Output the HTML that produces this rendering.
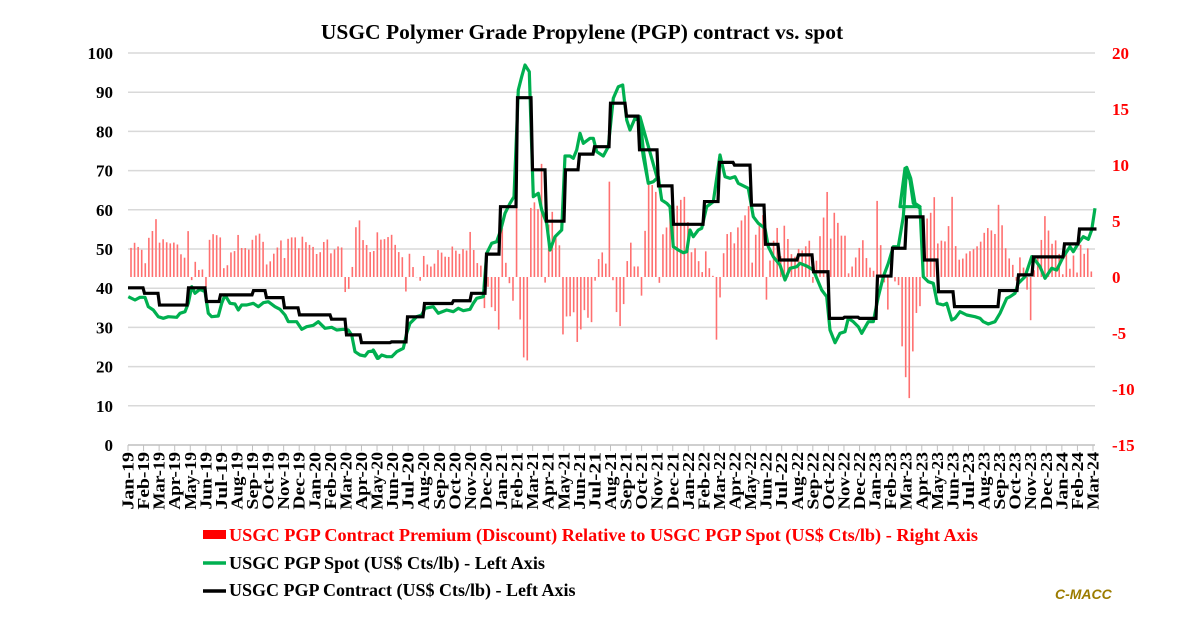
<!DOCTYPE html>
<html><head><meta charset="utf-8"><style>
body{margin:0;background:#fff;}
svg{display:block;font-family:"Liberation Serif",serif;}
</style></head><body>
<svg id="c" width="1200" height="627" xmlns="http://www.w3.org/2000/svg"></svg>
<script>
const S=document.getElementById('c');let h='';
const yl=v=>445-v*3.92, yr=v=>277-v*11.2;
h+='<rect width="1200" height="627" fill="#fff"/>';
h+='<text x="582" y="39" text-anchor="middle" font-size="21.5" font-weight="bold">USGC Polymer Grade Propylene (PGP) contract vs. spot</text>';
for(let v=0;v<=100;v+=10){const y=yl(v);if(v>0)h+=`<line x1="128" x2="1095" y1="${y}" y2="${y}" stroke="#d9d9d9" stroke-width="1.5"/>`;
h+=`<text x="113" y="${y+6}" text-anchor="end" font-size="17" font-weight="bold">${v}</text>`;}
for(let v=-15;v<=20;v+=5){h+=`<text x="1112" y="${yr(v)+6}" font-size="17" font-weight="bold" fill="#f00">${v}</text>`;}
h+='<line x1="128" x2="1095" y1="445" y2="445" stroke="#bfbfbf" stroke-width="1.5"/>';
const mon=['Jan','Feb','Mar','Apr','May','Jun','Jul','Aug','Sep','Oct','Nov','Dec'];
for(let i=0;i<63;i++){const x=128+i*(965/62);const lab=mon[i%12]+'-'+(19+Math.floor(i/12));
h+=`<line x1="${x}" x2="${x}" y1="445" y2="451" stroke="#bfbfbf"/>`;
h+=`<text transform="translate(${x+5.5},452) rotate(-90)" text-anchor="end" font-size="16.5" font-weight="bold" textLength="${lab.length*9.6}" lengthAdjust="spacingAndGlyphs">${lab}</text>`;}
const C=[[128,40.1],[143,38.7],[158,35.7],[187,40.1],[205,36.6],[219,38.3],[252,39.4],[265,37.6],[283,35],[298,33.2],[330,32.1],[345,28.1],[360,26.1],[390,26.3],[406,32.7],[423,36.1],[452,36.8],[470,38.7],[485,48.7],[499,60.8],[516,88.6],[531,70.2],[545,57.1],[564,70.2],[578,74.2],[593,76.1],[609,87.2],[625,83.9],[638,75.3],[657,66.1],[672,56.3],[703,62.1],[718,72.1],[733,71.4],[750,61.2],[764,51.2],[778,47.2],[797,48.5],[812,44.2],[828,32.3],[843,32.6],[858,32.3],[876,43.1],[891,50.2],[905,58.2],[923,47.2],[937,39.1],[953,35.3],[998,39.4],[1017,43.4],[1032,48],[1063,51.3],[1078,55.1],[1095,55.1]];
const cv=x=>{let v=C[0][1];for(const p of C){if(p[0]<=x)v=p[1];}return v;};
let cp='';for(let i=0;i<C.length;i++){const [x,v]=C[i];if(i==0)cp+=`M${x},${yl(v)}`;else{cp+=`L${x},${yl(C[i-1][1])}L${x+1.5},${yl(v)}`;}}
const Z=[[80,40,[[145,770],[165,780],[180,772],[195,772],[205,800],[220,810],[235,830],[250,835],[265,830],[290,832],[300,820],[315,815],[325,790],[335,740],[345,760],[360,748],[375,755],[385,820],[395,830],[415,828],[425,790],[435,765],[450,790],[465,792],[475,810],[485,795],[500,795],[520,790],[535,800],[550,788],[565,785],[585,800],[600,808],[615,825],[625,845],[650,845],[665,868],[680,860],[700,856],[715,845],[735,865],[755,862],[770,870],[790,868],[805,870],[815,885],[825,935],[840,945],[855,948],[865,935],[880,933],[892,955]]],
[370,50,[[10,900],[25,925],[35,915],[50,920],[65,920],[80,905],[100,895],[110,850],[120,820],[140,800],[155,795],[165,775],[190,770],[205,790],[230,780],[250,785],[265,775],[280,782],[300,778],[310,760],[320,745],[340,740],[350,610],[365,580],[380,575],[392,540],[405,490],[420,460],[432,440],[445,120],[455,80],[465,45],[478,65],[482,200],[490,440],[505,430],[515,480],[530,520],[540,600],[555,560],[575,540],[585,318],[600,318],[610,325],[620,300],[630,250],[640,280],[660,265],[670,265],[680,305],[700,318],[715,290],[730,145],[745,110],[758,105],[770,210],[780,240],[795,205],[805,210],[820,320],[835,400],[850,395],[862,385]]],
[640,50,[[0,200],[10,300],[25,400],[40,395],[55,380],[65,450],[80,460],[90,470],[100,590],[115,600],[130,608],[140,605],[150,540],[160,560],[175,540],[185,535],[200,470],[220,455],[240,315],[255,380],[270,385],[285,380],[295,400],[325,415],[340,500],[355,520],[375,535],[385,590],[400,620],[420,645],[435,690],[450,655],[470,650],[480,640],[500,648],[520,660],[545,720],[560,740],[570,840],[585,878],[600,850],[615,845],[625,805],[640,815],[655,830],[665,850],[685,815],[700,815],[715,740],[730,680],[745,640],[760,590],[775,590],[790,500],[800,352],[812,385],[825,460],[840,470]]],
[900,40,[[0,500],[15,385],[30,420],[40,490],[60,505],[70,710],[85,725],[100,730],[112,790],[130,795],[140,790],[155,840],[165,835],[180,815],[200,825],[225,830],[240,835],[250,845],[265,852],[285,845],[300,820],[320,775],[330,770],[345,760],[355,730],[375,710],[395,650],[405,660],[420,680],[435,715],[455,685],[470,690],[490,650],[510,620],[520,635],[535,610],[550,590],[565,598],[575,570],[585,505]]]];
const P=[];for(const [ox,oy,pts] of Z)for(const [a,b] of pts)P.push([ox+a/3,oy+b/3]);
const sv=x=>{for(let i=1;i<P.length;i++){if(P[i][0]>=x){const [x0,y0]=P[i-1],[x1,y1]=P[i];const t=(x-x0)/((x1-x0)||1);return (445-(y0+t*(y1-y0)))/3.92;}}return (445-P[P.length-1][1])/3.92;};
for(let x=131;x<=1094;x+=3.57){const d=cv(x)-sv(x);const y0=yr(0),y1=yr(d);h+=`<rect x="${x-0.8}" y="${Math.min(y0,y1)}" width="1.6" height="${Math.abs(y1-y0)}" fill="#ff7070"/>`;}
h+=`<polyline points="${P.map(p=>p[0].toFixed(1)+','+p[1].toFixed(1)).join(' ')}" fill="none" stroke="#00b050" stroke-width="3.2" stroke-linejoin="round"/>`;
h+=`<path d="${cp}" fill="none" stroke="#000" stroke-width="3.2"/>`;
h+='<rect x="203" y="530" width="23" height="9" fill="#f00"/><text x="229" y="541" font-size="18" font-weight="bold" fill="#f00" textLength="749" lengthAdjust="spacingAndGlyphs">USGC PGP Contract Premium (Discount) Relative to USGC PGP Spot (US$ Cts/lb) - Right Axis</text>';
h+='<line x1="203" x2="226" y1="563" y2="563" stroke="#00b050" stroke-width="3.5"/><text x="229" y="569" font-size="18" font-weight="bold" textLength="316" lengthAdjust="spacingAndGlyphs">USGC PGP Spot (US$ Cts/lb) - Left Axis</text>';
h+='<line x1="203" x2="226" y1="591" y2="591" stroke="#000" stroke-width="3.5"/><text x="229" y="596" font-size="18" font-weight="bold">USGC PGP Contract (US$ Cts/lb) - Left Axis</text>';
h+='<text x="1055" y="599" font-family="Liberation Sans,sans-serif" font-size="14" font-weight="bold" font-style="italic" fill="#9c7c00">C-MACC</text>';
S.innerHTML=h;
</script>
</body></html>
